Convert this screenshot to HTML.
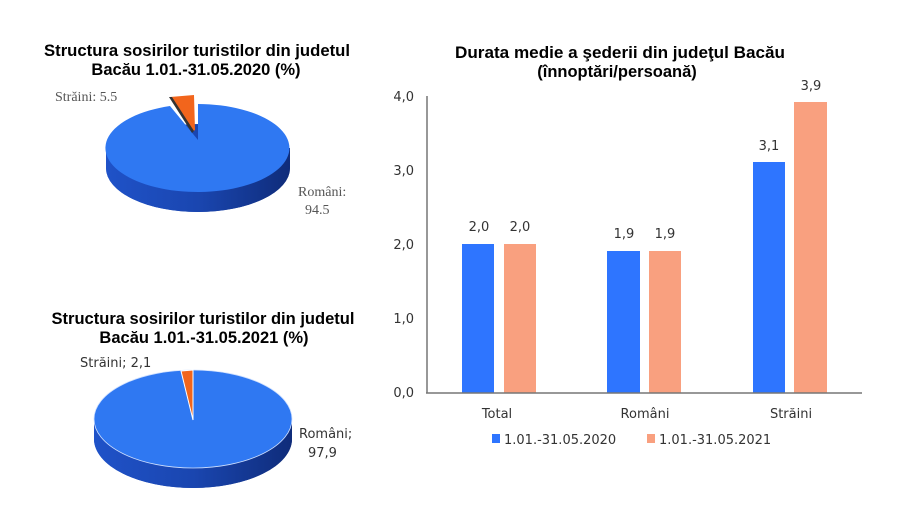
<!DOCTYPE html>
<html><head><meta charset="utf-8"><style>body{margin:0;background:#fff}svg{display:block}</style></head>
<body>
<svg width="900" height="514" xmlns="http://www.w3.org/2000/svg">
<defs>
<linearGradient id="side" x1="0" x2="1" y1="0" y2="0">
<stop offset="0" stop-color="#1f52c8"/><stop offset="0.5" stop-color="#1a46b0"/><stop offset="1" stop-color="#0f2c7a"/>
</linearGradient>
</defs>
<g font-family="Liberation Sans, sans-serif" font-weight="bold" font-size="16.5" fill="#000" text-anchor="middle">
<text x="197" y="56" textLength="306" lengthAdjust="spacingAndGlyphs">Structura sosirilor turistilor din judetul</text>
<text x="196" y="75">Bacău  1.01.-31.05.2020 (%)</text>
<text x="203" y="324" textLength="303" lengthAdjust="spacingAndGlyphs">Structura sosirilor turistilor din judetul</text>
<text x="204" y="343">Bacău 1.01.-31.05.2021 (%)</text>
<text x="620" y="58" textLength="330" lengthAdjust="spacingAndGlyphs">Durata medie a şederii din judeţul Bacău</text>
<text x="617" y="77">(înnoptări/persoană)</text>
</g>
<!-- pie 1 -->
<path d="M106 148 L106 168 A92 44 0 0 0 290 168 L290 148 Z" fill="url(#side)"/>
<ellipse cx="198" cy="168" rx="92" ry="44" fill="url(#side)"/>
<path d="M198 140 L198 104 A92 44 0 1 1 170 106 Z" fill="#2f78f2"/>
<path d="M192 132 L170 97 L194 95 L195 130 Z" fill="#f2651c"/>
<path d="M192 133 L169 97 L172 97 L194 131 Z" fill="#333"/>
<text x="55" y="101" font-family="Liberation Serif, serif" font-size="14" fill="#555">Străini: 5.5</text>
<text x="298" y="196" font-family="Liberation Serif, serif" font-size="14" fill="#555">Români:</text>
<text x="305" y="214" font-family="Liberation Serif, serif" font-size="14" fill="#555">94.5</text>
<!-- pie 2 -->
<path d="M94 419 L94 439 A99 49 0 0 0 292 439 L292 419 Z" fill="url(#side)"/>
<ellipse cx="193" cy="439" rx="99" ry="49" fill="url(#side)"/>
<ellipse cx="193" cy="419" rx="99" ry="49" fill="#2f78f2" stroke="#cfe0ff" stroke-width="0.8"/>
<path d="M193 420 L181 371 L193 370 Z" fill="#f2651c" stroke="#fff" stroke-width="1"/>
<text x="80" y="367" font-family="DejaVu Sans, sans-serif" font-size="13" fill="#333">Străini; 2,1</text>
<text x="299" y="438" font-family="DejaVu Sans, sans-serif" font-size="13" fill="#333">Români;</text>
<text x="308" y="457" font-family="DejaVu Sans, sans-serif" font-size="13" fill="#333">97,9</text>
<!-- bar chart -->
<g font-family="DejaVu Sans, sans-serif" font-size="13" fill="#333">
<g text-anchor="end">
<text x="414" y="101">4,0</text><text x="414" y="175">3,0</text><text x="414" y="249">2,0</text><text x="414" y="323">1,0</text><text x="414" y="397">0,0</text>
</g>
<rect x="462" y="244" width="32" height="149" fill="#2e75ff"/>
<rect x="504" y="244" width="32" height="149" fill="#f9a07f"/>
<rect x="607" y="251" width="33" height="142" fill="#2e75ff"/>
<rect x="649" y="251" width="32" height="142" fill="#f9a07f"/>
<rect x="753" y="162" width="32" height="231" fill="#2e75ff"/>
<rect x="794" y="102" width="33" height="291" fill="#f9a07f"/>
<line x1="427" y1="96" x2="427" y2="393" stroke="#777" stroke-width="1.5"/>
<line x1="426" y1="393" x2="862" y2="393" stroke="#777" stroke-width="1.5"/>
<g text-anchor="middle">
<text x="479" y="231">2,0</text><text x="520" y="231">2,0</text>
<text x="624" y="238">1,9</text><text x="665" y="238">1,9</text>
<text x="769" y="150">3,1</text><text x="811" y="90">3,9</text>
<text x="497" y="418">Total</text><text x="645" y="418">Români</text><text x="791" y="418">Străini</text>
</g>
<rect x="492" y="434" width="8" height="9" fill="#2e75ff"/>
<text x="504" y="444">1.01.-31.05.2020</text>
<rect x="647" y="434" width="8" height="9" fill="#f9a07f"/>
<text x="659" y="444">1.01.-31.05.2021</text>
</g>
</svg>
</body></html>
